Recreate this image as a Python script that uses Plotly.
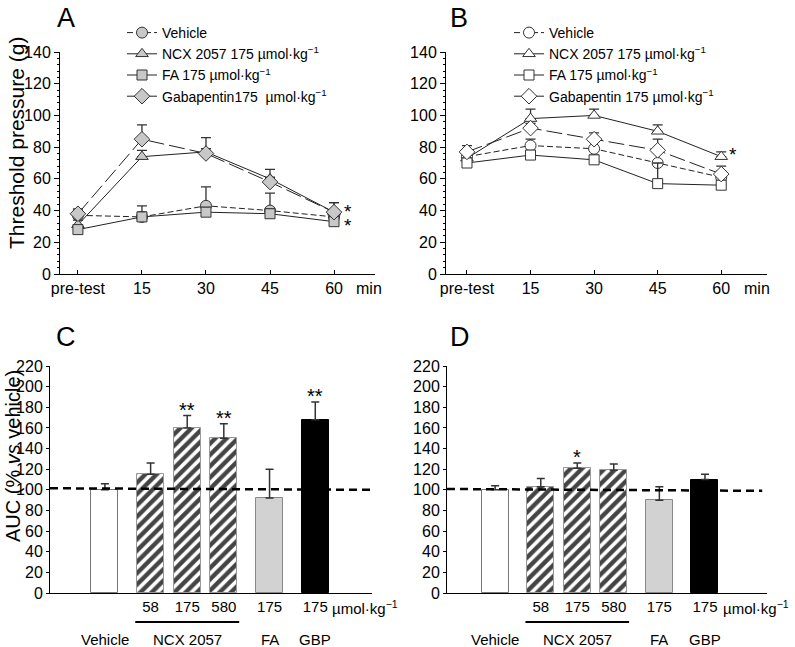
import plotly.graph_objects as go

FONT = "Liberation Sans, Arial, sans-serif"
W, H = 795, 647

# ---------------- data ----------------
time_labels = ["pre-test", "15", "30", "45", "60"]

# Panel A
a_vehicle = [37, 36, 43, 40, 36]
a_vehicle_err = [3, 7, 12, 11, 3]
a_ncx = [31, 74, 77, 60, 39]
a_ncx_err = [3, 4, 9, 6, 6]
a_fa = [28, 36, 39, 38, 33]
a_fa_err = [2, 3, 3, 3, 3]
a_gaba = [38, 85, 76, 58, 39]
a_gaba_err = [3, 9, 3, 3, 6]
a_sig_vals = [42, 33]   # positions of the two asterisks at 60 min

# Panel B
b_vehicle = [74, 81, 79, 70, 61]
b_vehicle_err = [3, 4, 4, 8, 4]
b_ncx = [73, 98, 100, 90, 74]
b_ncx_err = [3, 6, 4, 4, 3]
b_fa = [70, 75, 72, 57, 56]
b_fa_err = [2, 3, 3, 13, 3]
b_gaba = [77, 92, 85, 78, 63]
b_gaba_err = [4, 3, 4, 7, 5]
b_sig_val = 78

# Panels C / D (AUC % vs vehicle)
dose_labels = ["", "58", "175", "580", "175", "175"]
group_labels = ["Vehicle", "NCX 2057", "FA", "GBP"]
c_auc = [100, 115, 160, 150, 92, 168]
c_err = [6, 11, 12, 14, 28, 17]
c_sig = ["", "", "**", "**", "", "**"]
c_ref = [101.5, 100]
d_auc = [100, 103, 121, 119, 90, 110]
d_err = [4, 8, 5, 6, 13, 5]
d_sig = ["", "", "*", "", "", ""]
d_ref = [100.8, 99]

# ---------------- layout helpers ----------------
bar_slots = [0, 1.25, 2.25, 3.25, 4.5, 5.75]
group_slots = [0, 2.25, 4.5, 5.75]
last_idx = len(time_labels) - 1


def px(x):
    return x / W


def py(y):
    return 1 - y / H


fig = go.Figure()


def add_line(xa, ya, y, err, name, symbol, dash, fill, size, legend):
    fig.add_trace(go.Scatter(
        x=time_labels, y=y, name=name, xaxis=xa, yaxis=ya, legend=legend,
        mode="lines+markers",
        line=dict(color="#222", width=1, dash=dash),
        marker=dict(symbol=symbol, size=size, color=fill,
                    line=dict(color="#333", width=1)),
        error_y=dict(type="data", array=err, arrayminus=[0] * len(err),
                     symmetric=False, color="#333", thickness=1.3, width=5),
    ))


GRAYFILL = "#c8c8c8"
SHORT = "6px,3px"
LONG = "16px,5px"
add_line("x", "y", a_vehicle, a_vehicle_err, "Vehicle", "circle", SHORT, GRAYFILL, 11, "legend")
add_line("x", "y", a_ncx, a_ncx_err, "NCX 2057 175 µmol·kg<sup>−1</sup>", "triangle-up", "solid", GRAYFILL, 11, "legend")
add_line("x", "y", a_fa, a_fa_err, "FA 175 µmol·kg<sup>−1</sup>", "square", "solid", GRAYFILL, 10, "legend")
add_line("x", "y", a_gaba, a_gaba_err, "Gabapentin175  µmol·kg<sup>−1</sup>", "diamond", LONG, GRAYFILL, 12, "legend")

add_line("x2", "y2", b_vehicle, b_vehicle_err, "Vehicle", "circle", SHORT, "white", 11, "legend2")
add_line("x2", "y2", b_ncx, b_ncx_err, "NCX 2057 175 µmol·kg<sup>−1</sup>", "triangle-up", "solid", "white", 11, "legend2")
add_line("x2", "y2", b_fa, b_fa_err, "FA 175 µmol·kg<sup>−1</sup>", "square", "solid", "white", 10, "legend2")
add_line("x2", "y2", b_gaba, b_gaba_err, "Gabapentin 175 µmol·kg<sup>−1</sup>", "diamond", LONG, "white", 12, "legend2")

bar_fill = ["white", "white", "white", "white", "#d2d2d2", "black"]
bar_edge = ["#777", "#999", "#999", "#999", "#888", "black"]
bar_pattern = ["", "/", "/", "/", "", ""]


def add_bars(xa, ya, vals, errs):
    fig.add_trace(go.Bar(
        x=bar_slots, y=vals, xaxis=xa, yaxis=ya, width=0.74, showlegend=False,
        marker=dict(color=bar_fill, line=dict(color=bar_edge, width=1),
                    pattern=dict(shape=bar_pattern, fgcolor="black", bgcolor="white",
                                 fgopacity=1, size=8, solidity=0.55)),
        error_y=dict(type="data", array=errs, arrayminus=[0] * len(errs),
                     symmetric=False, color="#333", thickness=1.5, width=4),
    ))


add_bars("x3", "y3", c_auc, c_err)
add_bars("x4", "y4", d_auc, d_err)

# ---------------- axes ----------------
axis_common = dict(showline=True, linecolor="black", linewidth=1, showgrid=False,
                   zeroline=False, tickcolor="black", automargin=False,
                   tickfont=dict(family=FONT, size=16, color="black"))

ytop = dict(range=[0, 140], dtick=20, ticks="outside", ticklen=5,
            minor=dict(dtick=4, ticks="outside", ticklen=2, tickcolor="black"),
            domain=[py(274), py(52)], **axis_common)
xtop = dict(type="category", ticks="inside", ticklen=4, **axis_common)

ybot = dict(range=[0, 220], dtick=20, ticks="outside", ticklen=3,
            domain=[py(593), py(366)],
            **{**axis_common, "tickfont": dict(family=FONT, size=16, color="black")})
xbot = dict(ticks="", tickvals=bar_slots, ticktext=dose_labels,
            **{**axis_common, "tickfont": dict(family=FONT, size=15, color="black")})

fig.update_layout(
    xaxis=dict(domain=[px(60), px(375)], range=[-0.28, 4.64], anchor="y", **xtop),
    yaxis=dict(anchor="x", **ytop),
    xaxis2=dict(domain=[px(446), px(767)], range=[-0.33, 4.72], anchor="y2", **xtop),
    yaxis2=dict(anchor="x2", **ytop),
    xaxis3=dict(domain=[px(50), px(372)], range=[-1.5, 7.3], anchor="y3", **xbot),
    yaxis3=dict(anchor="x3", **ybot),
    xaxis4=dict(domain=[px(447), px(767)], range=[-1.32, 7.45], anchor="y4", **xbot),
    yaxis4=dict(anchor="x4", **ybot),
)

legend_common = dict(xanchor="left", yanchor="top", bgcolor="rgba(0,0,0,0)",
                     font=dict(family=FONT, size=14, color="black"), tracegroupgap=0,
                     itemclick=False)
fig.update_layout(
    legend=dict(x=px(122), y=py(17), **legend_common),
    legend2=dict(x=px(509), y=py(17), **legend_common),
)

# ---------------- annotations ----------------
ann = []


def text(x, y, s, size, xref="paper", yref="paper", **kw):
    d = dict(x=x, y=y, text=s, showarrow=False, xref=xref, yref=yref,
             xanchor="center", yanchor="middle", borderpad=0,
             font=dict(family=FONT, size=size, color="black"))
    d.update(kw)
    ann.append(d)


# panel letters
text(px(66), py(18), "A", 27)
text(px(459), py(18), "B", 27)
text(px(66), py(337), "C", 27)
text(px(460), py(337), "D", 27)

# axis titles
text(px(17), py(143), "Threshold pressure (g)", 21, textangle=-90)
text(px(13), py(456), "AUC (% <i>vs</i> vehicle)", 20, textangle=-90)

# min labels
text(px(369), py(288), "min", 16)
text(px(757), py(288), "min", 16)

# significance in A and B
for v in a_sig_vals:
    text(last_idx, v, "*", 19, xref="x", yref="y", xshift=14, yshift=-4)
text(last_idx, b_sig_val, "*", 19, xref="x2", yref="y2", xshift=12, yshift=-4)

# significance in C and D
for xa, ya, vals, errs, sigs in (("x3", "y3", c_auc, c_err, c_sig), ("x4", "y4", d_auc, d_err, d_sig)):
    for xs, v, e, s in zip(bar_slots, vals, errs, sigs):
        if s:
            text(xs, v + e, s, 20, xref=xa, yref=ya, yanchor="bottom", yshift=-6)

# units & group labels under C and D
text(px(331), py(607), "µmol·kg<sup>−1</sup>", 15, xanchor="left")
text(px(722), py(607), "µmol·kg<sup>−1</sup>", 15, xanchor="left")
for xa in ("x3", "x4"):
    for xs, g in zip(group_slots, group_labels):
        text(xs, py(639), g, 15, xref=xa)

fig.update_layout(annotations=ann)

# reference dashed lines and NCX underline
shapes = []
for xa, ya, ref, x1 in (("x3", "y3", c_ref, 1.0), ("x4", "y4", d_ref, 0.985)):
    shapes.append(dict(type="line", xref=f"{xa} domain", yref=ya, x0=0, x1=x1,
                       y0=ref[0], y1=ref[1],
                       line=dict(color="black", width=2.5, dash="8px,5px")))
    shapes.append(dict(type="line", xref=xa, yref="paper", x0=bar_slots[1] - 0.42,
                       x1=bar_slots[3] + 0.42, y0=py(622), y1=py(622),
                       line=dict(color="black", width=2)))
fig.update_layout(shapes=shapes)

fig.update_layout(
    width=W, height=H, margin=dict(l=0, r=0, t=0, b=0, autoexpand=False),
    paper_bgcolor="white", plot_bgcolor="white",
    font=dict(family=FONT, color="black"),
    bargap=0,
)

# remove the default 8px page margin so the figure fills the window exactly
fig.write_html("out.html",
               config={"displayModeBar": False},
               post_script="document.body.style.margin='0';document.body.style.overflow='hidden';")
